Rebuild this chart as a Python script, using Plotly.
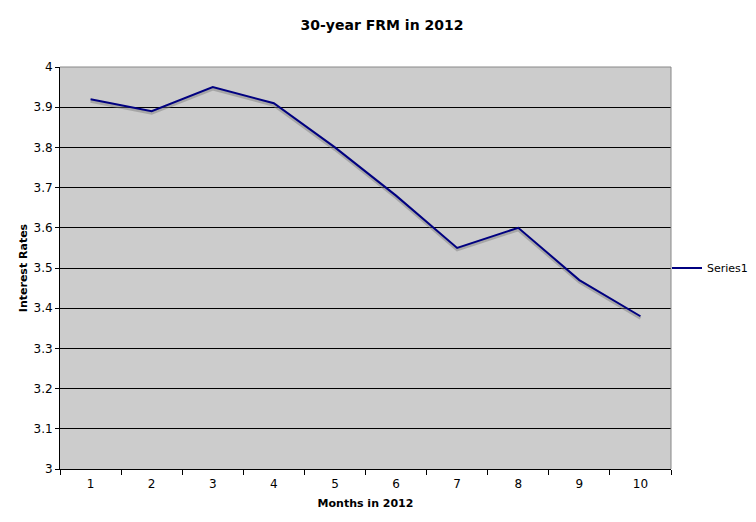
import plotly.graph_objects as go

months = ['1', '2', '3', '4', '5', '6', '7', '8', '9', '10']
rates = [3.92, 3.89, 3.95, 3.91, 3.80, 3.68, 3.55, 3.60, 3.47, 3.38]
y_ticks = [3.0, 3.1, 3.2, 3.3, 3.4, 3.5, 3.6, 3.7, 3.8, 3.9, 4.0]
y_tick_labels = ['3', '3.1', '3.2', '3.3', '3.4', '3.5', '3.6', '3.7', '3.8', '3.9', '4']

fig = go.Figure()

# soft drop shadow under the line
fig.add_trace(go.Scatter(
    x=months,
    y=[r - 0.005 for r in rates],
    mode='lines',
    line=dict(color='rgba(120,120,120,0.45)', width=3),
    showlegend=False,
    hoverinfo='skip'
))
fig.add_trace(go.Scatter(
    x=months,
    y=rates,
    mode='lines',
    name='Series1',
    line=dict(color='#000080', width=2)
))

# gray top/right frame of the plot area
fig.add_shape(type='line', xref='paper', yref='paper', x0=0, x1=1, y0=1, y1=1,
              line=dict(color='#888888', width=1))
fig.add_shape(type='line', xref='paper', yref='paper', x0=1, x1=1, y0=0, y1=1,
              line=dict(color='#888888', width=1))

# page body has an 8px margin, so the figure is sized to fit the window
fig.update_layout(
    width=748,
    height=514,
    title=dict(text='<b>30-year FRM in 2012</b>', x=0.5, xanchor='center',
               y=0.967, yanchor='middle', font=dict(size=14, color='black')),
    font=dict(family='DejaVu Sans, Verdana, sans-serif', size=12, color='black'),
    paper_bgcolor='white',
    plot_bgcolor='#CCCCCC',
    margin=dict(l=52, r=85, t=59, b=53, autoexpand=False),
    xaxis=dict(
        type='category',
        range=[-0.5, len(months) - 0.5],
        title=dict(text='<b>Months in 2012</b>', font=dict(size=11), standoff=8),
        showgrid=False,
        showline=True, linecolor='black', linewidth=1,
        ticks='outside', tickson='boundaries', ticklen=5, tickcolor='black',
        ticklabelstandoff=4,
        zeroline=False
    ),
    yaxis=dict(
        title=dict(text='<b>Interest Rates</b>', font=dict(size=11), standoff=3),
        range=[3, 4],
        tickvals=y_ticks,
        ticktext=y_tick_labels,
        showgrid=True, gridcolor='black', gridwidth=1,
        showline=True, linecolor='black', linewidth=1,
        ticks='outside', ticklen=4, tickcolor='black',
        ticklabelstandoff=0,
        zeroline=False
    ),
    legend=dict(x=1.0 - 4 / 611, y=0.5, yanchor='middle', xanchor='left',
                font=dict(size=11), bgcolor='rgba(0,0,0,0)'),
    showlegend=True
)

fig.write_html("out.html")
